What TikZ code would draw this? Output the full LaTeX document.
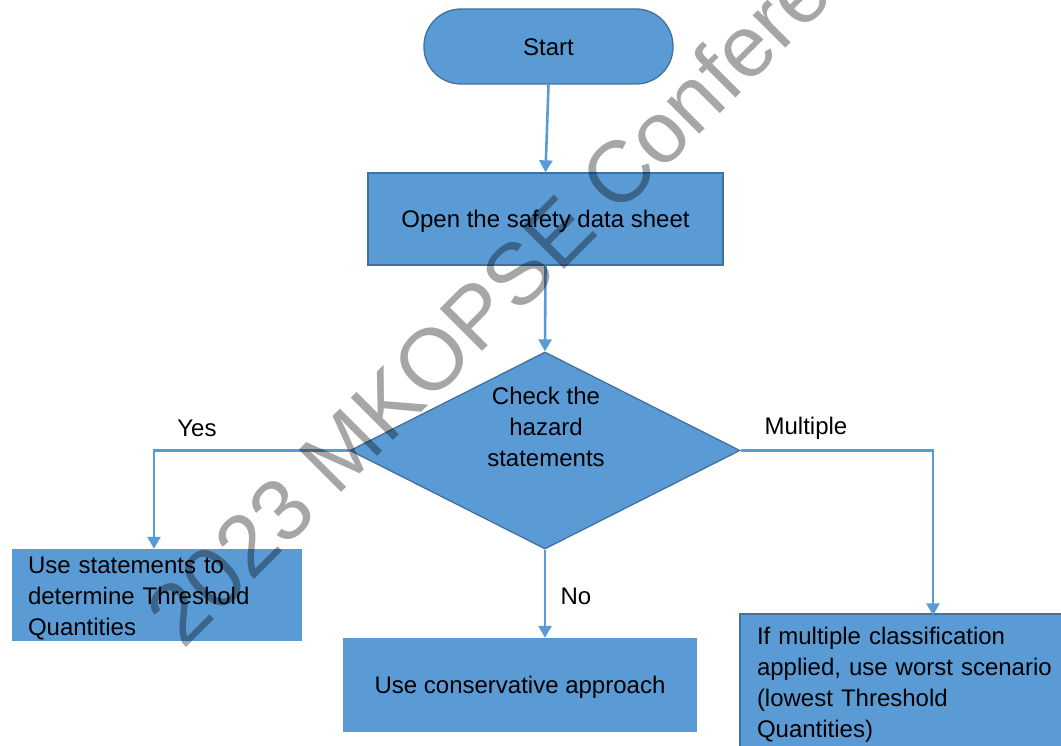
\documentclass[tikz,border=0pt]{standalone}
\usepackage{fontspec}
\setmainfont{Liberation Sans}
\usetikzlibrary{shapes.geometric,arrows.meta,calc}

\definecolor{boxfill}{HTML}{5B9BD5}
\definecolor{boxedge}{HTML}{41719C}
\definecolor{flow}{HTML}{5B9BD5}

\tikzset{
  base/.style={font=\fontsize{24}{31}\selectfont, text=black},
  oneline/.style={base, text height=17.2pt, text depth=0pt},
  terminal/.style={oneline, draw=boxedge, line width=1.3pt, fill=boxfill,
    rounded corners=37pt, minimum width=249pt, minimum height=75pt, inner sep=0pt},
  process/.style={oneline, draw=boxedge, line width=1.3pt, fill=boxfill,
    minimum width=355pt, minimum height=92pt, inner sep=0pt},
  plainbox/.style={fill=boxfill, inner sep=0pt},
  decision/.style={draw=boxedge, line width=1.3pt, fill=boxfill, diamond, aspect=2,
    minimum width=390pt, minimum height=197pt, inner sep=0pt},
  blocktext/.style={base, align=left, inner sep=0pt},
  flowline/.style={draw=flow, line width=2.6pt, -{Triangle[length=12pt,width=13pt]}},
  edgelabel/.style={oneline, inner sep=0pt},
  watermark/.style={font=\fontsize{87}{87}\selectfont, text=black, text opacity=0.35,
    rotate=45, anchor=base west, inner sep=0pt}
}

\begin{document}
\begin{tikzpicture}[x=1pt, y=-1pt]
  \useasboundingbox (0,0) rectangle (1061,746);

  % main column
  \node[terminal] (start) at (548.5,46.5) {Start};
  \node[process] (open) at (545.5,219) {Open the safety data sheet};
  \node[decision] (check) at (545,450.5) {};
  \node[base, align=center, inner sep=0pt] (checktext) at (546,427)
    {Check the\\hazard\\statements};

  % outcome boxes
  \node[plainbox, minimum width=290pt, minimum height=92pt] (yesbox) at (157,595) {};
  \node[blocktext, text width=258pt] (yestext) at ([yshift=-3.5pt]yesbox.center)
    {Use statements to\\determine Threshold\\Quantities};
  \node[plainbox, oneline, minimum width=354pt, minimum height=94pt] (consbox)
    at (520,685) {Use conservative approach};
  \node[plainbox, draw=boxedge, line width=1.3pt, minimum width=340pt,
        minimum height=138pt] (multbox) at (910,683) {};
  \node[blocktext, text width=306pt] (multtext) at ([yshift=-2pt]multbox.center)
    {If multiple classification\\applied, use worst scenario\\(lowest Threshold\\Quantities)};

  % connectors
  \draw[flowline] (start.south) -- (open.north);
  \draw[flowline] (open.south) -- (check.north);
  \draw[flowline] (check.west) -| ([xshift=-3pt]yesbox.north);
  \draw[flowline] (check.south) -- (check.south |- consbox.north);
  \draw[flowline] (check.east) -| ([xshift=23pt,yshift=-2pt]multbox.north);

  % branch labels
  \node[edgelabel] (yeslabel) at (197,428) {Yes};
  \node[edgelabel] (nolabel) at (576,596) {No};
  \node[edgelabel] (multlabel) at (806,426) {Multiple};

  % conference watermark across the chart
  \node[watermark] (wm) at (183,651) {2023 MKOPSE Conference};
\end{tikzpicture}
\end{document}
